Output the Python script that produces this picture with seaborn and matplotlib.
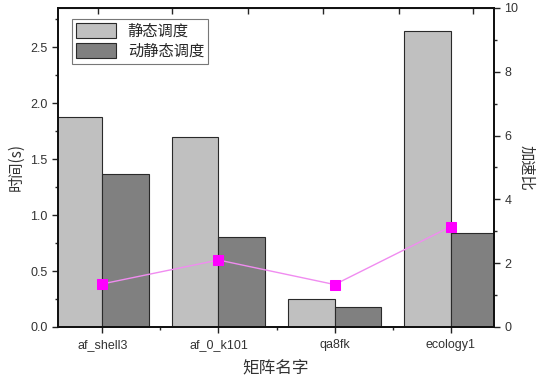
import numpy as np
import pandas as pd
import seaborn as sns
import matplotlib.pyplot as plt
from matplotlib.ticker import MultipleLocator

# data
matrices = ["af_shell3", "af_0_k101", "qa8fk", "ecology1"]
static_time = [1.875, 1.70, 0.25, 2.64]
dynamic_time = [1.37, 0.80, 0.18, 0.84]
speedup = [1.35, 2.10, 1.33, 3.15]
series_names = ["静态调度", "动静态调度"]

df = pd.DataFrame({
    "matrix": matrices * 2,
    "time": static_time + dynamic_time,
    "kind": [series_names[0]] * 4 + [series_names[1]] * 4,
})

sns.set_style("ticks")
plt.rcParams['font.family'] = ['Liberation Sans', 'Noto Sans CJK SC', 'DejaVu Sans']
cjk = ['Noto Sans CJK SC', 'DejaVu Sans']

fig = plt.figure(figsize=(5.38, 3.8), dpi=100)
ax = fig.add_axes([0.108, 0.1395, 0.81, 0.8395])

sns.barplot(data=df, x="matrix", y="time", hue="kind", hue_order=series_names,
            palette=["#c0c0c0", "#808080"], width=0.8, edgecolor="#2a2a2a",
            linewidth=0.8, saturation=1, ax=ax)

ax.set_xlim(-0.38, 3.37)
ax.set_ylim(0, 2.85)
ax.yaxis.set_major_locator(MultipleLocator(0.5))
ax.yaxis.set_minor_locator(MultipleLocator(0.25))
ax.set_xticks(range(len(matrices)))
ax.set_xticks(np.arange(len(matrices) - 1) + 0.5, minor=True)
ax.tick_params(axis='both', which='major', direction='out', length=4, width=1, labelsize=9,
               colors='#222222', labelcolor='#333333')
ax.tick_params(axis='x', which='major', pad=5)
ax.tick_params(axis='both', which='minor', direction='out', length=2.5, width=1)
ax.set_xlabel("矩阵名字", family=cjk, fontsize=12, color='#333333', labelpad=6)
ax.set_ylabel("时间(s)", family=cjk, fontsize=11, color='#333333')
for s in ax.spines.values():
    s.set_linewidth(1.3)
    s.set_color('#111111')

# inward ticks on the top edge
top = ax.secondary_xaxis('top')
top.set_xticks([-0.04, 0.60, 1.25, 1.90, 2.55, 3.19])
top.set_xticklabels([])
top.tick_params(direction='in', length=4, width=1)

leg = ax.legend(loc='upper left', bbox_to_anchor=(0.025, 0.975), prop={'family': cjk, 'size': 11},
                frameon=True, fancybox=False, edgecolor='#555555', handlelength=2.6,
                handleheight=1.1, borderpad=0.25, labelspacing=0.2, borderaxespad=0.2)
leg.get_frame().set_linewidth(0.8)

ax2 = ax.twinx()
sns.lineplot(x=np.arange(len(matrices)), y=speedup, ax=ax2, color="#f08cf0", linewidth=1,
             marker='s', markersize=6.5, markerfacecolor="#ff00ff", markeredgecolor="#ff00ff")
ax2.set_ylim(0, 10)
ax2.yaxis.set_major_locator(MultipleLocator(2))
ax2.yaxis.set_minor_locator(MultipleLocator(1))
ax2.tick_params(axis='y', which='major', direction='out', length=4, width=1, labelsize=9,
                colors='#222222', labelcolor='#333333')
ax2.tick_params(axis='y', which='minor', direction='out', length=2.5, width=1)
ax2.set_ylabel("加速比", family=cjk, fontsize=11, rotation=270, labelpad=12, color='#333333')
for s in ax2.spines.values():
    s.set_linewidth(1.3)
    s.set_color('#111111')

fig.savefig("out.png", dpi=100)
